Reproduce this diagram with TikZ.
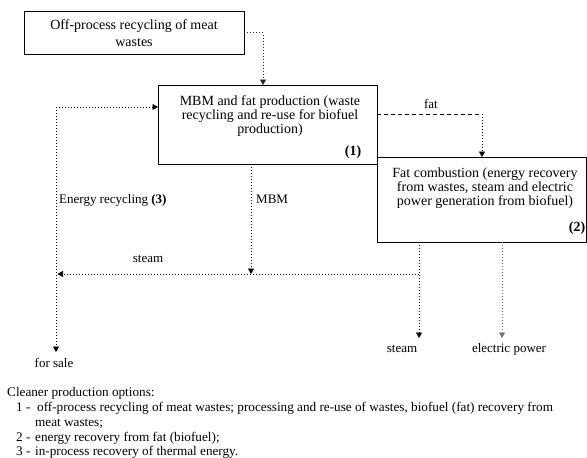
\documentclass[tikz,border=0pt]{standalone}
\usepackage{fontspec}
\setmainfont{Liberation Serif}
\usetikzlibrary{arrows.meta,calc}
\begin{document}
\begin{tikzpicture}[x=1pt,y=-1pt,
  box/.style={draw=black, line width=0.8pt, fill=white, inner sep=0pt, outer sep=0pt},
  boxtext/.style={font=\fontsize{14}{14}\selectfont, inner sep=0pt, anchor=base},
  lbl/.style={font=\fontsize{13}{13}\selectfont, inner sep=0pt, anchor=base},
  leg/.style={font=\fontsize{13.2}{13.2}\selectfont, inner sep=0pt, anchor=base west},
  dotln/.style={line width=0.7pt, dash pattern=on 0.8pt off 2.2pt},
  dashln/.style={line width=0.7pt, dash pattern=on 4pt off 3pt},
  tip/.style={-{Triangle[width=6pt,length=5.5pt]}},
]
\fill[white] (0,0) rectangle (587,458);
\path[use as bounding box] (0,0) rectangle (587,458);

% boxes
\node[box, minimum width=220pt, minimum height=43pt] (A) at (134,32.5) {};
\node[boxtext] (A1) at (134,29.5) {Off-process recycling of meat};
\node[boxtext] (A2) at (134,46) {wastes};

\node[box, minimum width=219pt, minimum height=79pt] (B) at (267.5,124.5) {};
\node[boxtext] (B1) at (270,105) {MBM and fat production (waste};
\node[boxtext] (B2) at (270,119) {recycling and re-use for biofuel};
\node[boxtext] (B3) at (270,133.5) {production)};
\node[boxtext] (B4) at (353,155.5) {\bfseries (1)};

\node[box, minimum width=209pt, minimum height=85pt] (C) at (481.5,199.5) {};
\node[boxtext] (C1) at (485,177.5) {Fat combustion (energy recovery};
\node[boxtext] (C2) at (485,191.5) {from wastes, steam and electric};
\node[boxtext] (C3) at (485,205.5) {power generation from biofuel)};
\node[boxtext] (C4) at (577,231.5) {\bfseries (2)};

% labels
\node[lbl] (fat) at (431,108.5) {fat};
\node[lbl, anchor=base west] (er) at (59,203) {Energy recycling \textbf{(3)}};
\node[lbl, anchor=base west] (mbm) at (256,203) {MBM};
\node[lbl] (st1) at (148,262) {steam};
\node[lbl] (fs) at (54,367) {for sale};
\node[lbl] (st2) at (402,352) {steam};
\node[lbl] (ep) at (509,352) {electric power};

% connectors
\coordinate (ABk) at (263,32.5);
\draw[dotln, tip, draw=black!85] (A.east) -- (ABk) -- (ABk |- B.north);

\coordinate (L1) at (56,107);
\coordinate (FS) at (56,352);
\draw[dotln, tip] (L1) -- (L1 -| B.west);
\draw[dotln, tip] (L1) -- (FS);

\coordinate (M) at (251,274);
\draw[dotln, tip] (B.south -| M) -- (M);

\coordinate (SJ) at (419,274);
\coordinate (SL) at (57.5,274);
\draw[dotln, tip] (SJ) -- (SL);
\coordinate (SB) at (419,338);
\draw[dotln, tip] (C.south -| SJ) -- (SB);
\coordinate (EB) at (502,338);
\draw[dotln, tip, draw=black!55] (C.south -| EB) -- (EB);

\coordinate (FK) at (482,114);
\draw[dashln] (B.east |- FK) -- (FK);
\draw[dotln, tip] (FK) -- (C.north -| FK);

% legend
\node[leg] (lg0) at (7,396) {Cleaner production options:};
\node[leg] (n1) at (16,411) {1 -};
\node[leg] (t1) at (37,411) {off-process recycling of meat wastes; processing and re-use of wastes, biofuel (fat) recovery from};
\node[leg] (t1b) at (35,426) {meat wastes;};
\node[leg] (n2) at (16,441) {2 -};
\node[leg] (t2) at (35,441) {energy recovery from fat (biofuel);};
\node[leg] (n3) at (16,455) {3 -};
\node[leg] (t3) at (35,455) {in-process recovery of thermal energy.};
\end{tikzpicture}
\end{document}
